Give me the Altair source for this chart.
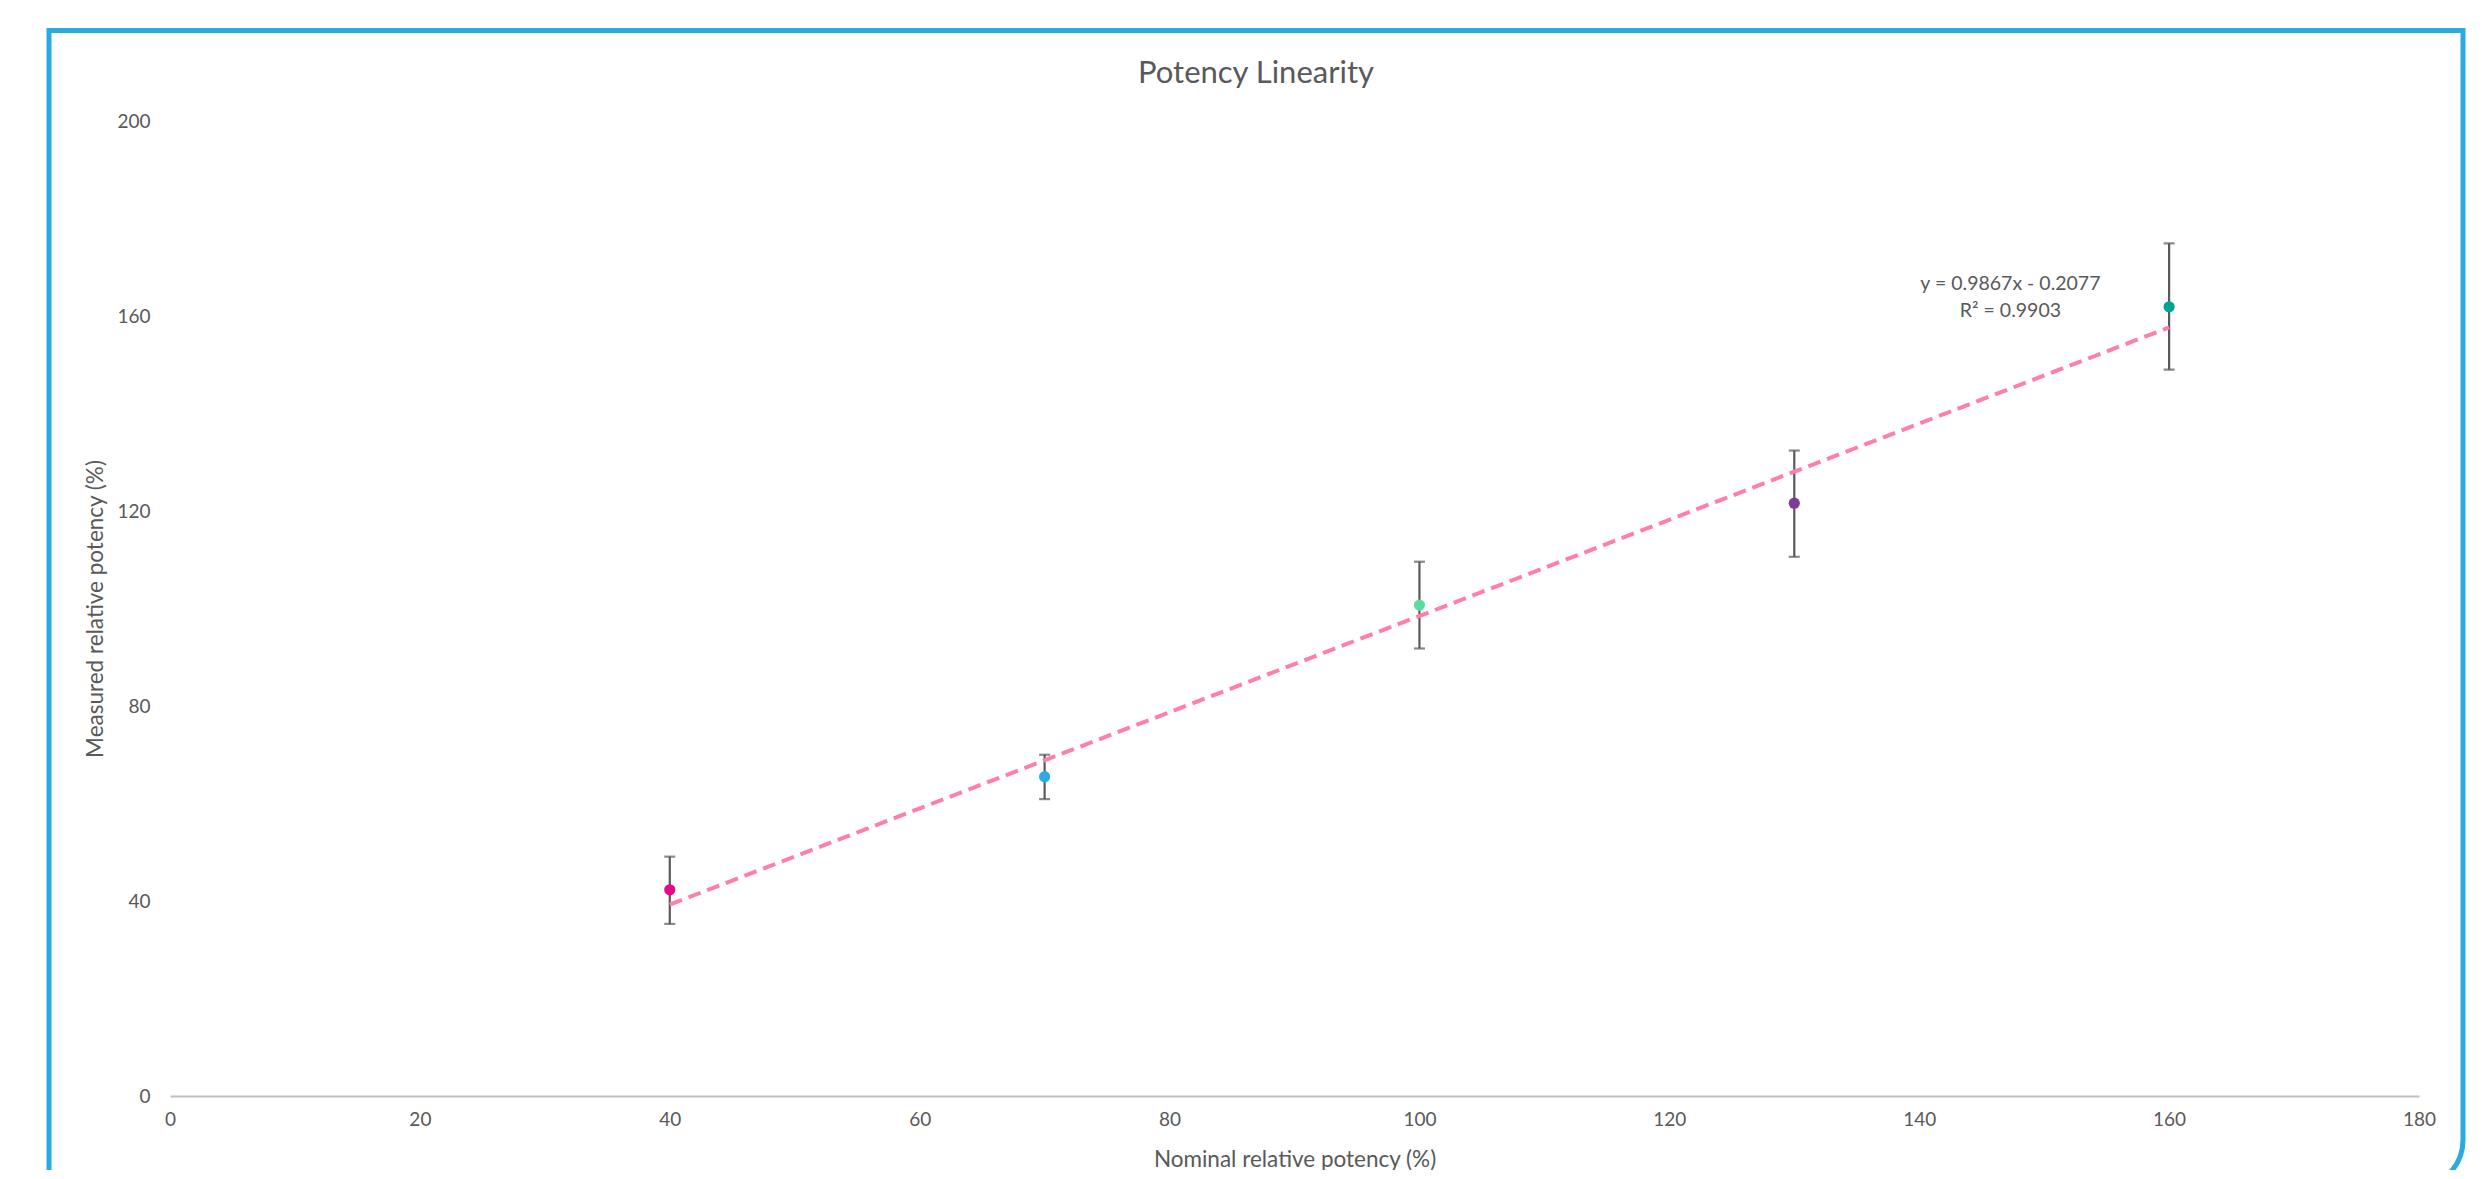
import altair as alt
import pandas as pd

# ---- data ----
nominal = [40, 70, 100, 130, 160]
measured = [42.3, 65.5, 100.7, 121.6, 161.9]
err_low = [35.3, 60.9, 91.8, 110.6, 149.0]
err_high = [49.1, 70.0, 109.6, 132.4, 174.9]
point_colors = ["#E6078C", "#2AABE2", "#5CDDA0", "#7D3C98", "#00A494"]

slope = 0.9867
intercept = -0.2077
r_squared = 0.9903
trend_x = [40, 160]
label_pos = [147.3, 165.3]

x_ticks = [0, 20, 40, 60, 80, 100, 120, 140, 160, 180]
y_ticks = [0, 40, 80, 120, 160, 200]

chart_title = "Potency Linearity"
x_title = "Nominal relative potency (%)"
y_title = "Measured relative potency (%)"

FONT = "Lato"
TXT = "#595959"

pts = pd.DataFrame({
    "x": nominal, "y": measured, "lo": err_low, "hi": err_high,
    "k": [str(v) for v in nominal],
})
trend = pd.DataFrame({"x": trend_x})
lab = pd.DataFrame({
    "x": [label_pos[0]], "y": [label_pos[1]],
    "t": [f"y = {slope}x - {abs(intercept)}\nR² = {r_squared}"],
})

xs = alt.Scale(domain=[0, 180], nice=False, zero=True)
ys = alt.Scale(domain=[0, 200], nice=False, zero=True)

x_axis = alt.Axis(
    values=x_ticks, grid=False, ticks=False, tickSize=0, labelFlush=False,
    domainColor="#BFBFBF", domainWidth=2,
    labelFont=FONT, labelFontSize=19, labelColor=TXT, labelPadding=14,
    title=x_title, titleFont=FONT, titleFontSize=22.5,
    titleFontWeight="normal", titleColor=TXT, titleY=63, titleBaseline="middle",
)
y_axis = alt.Axis(
    values=y_ticks, grid=False, ticks=False, tickSize=0, domain=False, labelFlush=False,
    labelFont=FONT, labelFontSize=19, labelColor=TXT, labelPadding=20,
    title=y_title, titleFont=FONT, titleFontSize=22.5,
    titleFontWeight="normal", titleColor=TXT, titleX=-75, titleY=487.5,
    titleAngle=270, titleBaseline="middle", titleAlign="center",
)


def X(f):
    return alt.X(f, scale=xs, axis=x_axis)


def Y(f):
    return alt.Y(f, scale=ys, axis=y_axis)


bars = alt.Chart(pts).mark_rule(color=TXT, strokeWidth=2.2).encode(
    x=X("x:Q"), y=Y("lo:Q"), y2="hi:Q",
)
cap_lo = alt.Chart(pts).mark_tick(
    orient="horizontal", color=TXT, size=11, thickness=2.2
).encode(x=X("x:Q"), y=Y("lo:Q"))
cap_hi = alt.Chart(pts).mark_tick(
    orient="horizontal", color=TXT, size=11, thickness=2.2
).encode(x=X("x:Q"), y=Y("hi:Q"))

dots = alt.Chart(pts).mark_circle(size=125, opacity=1).encode(
    x=X("x:Q"), y=Y("y:Q"),
    color=alt.Color("k:N", scale=alt.Scale(domain=pts["k"].tolist(), range=point_colors), legend=None),
)

line = alt.Chart(trend).transform_calculate(
    ty=f"{slope} * datum.x + ({intercept})"
).mark_line(color="#FF7FAA", strokeWidth=4, strokeDash=[13, 7]).encode(
    x=X("x:Q"), y=Y("ty:Q"),
)

text = alt.Chart(lab).mark_text(
    font=FONT, fontSize=19.5, color=TXT, align="center", baseline="alphabetic",
    lineBreak="\n", lineHeight=27,
).encode(x=X("x:Q"), y=Y("y:Q"), text="t:N")

frame = pd.DataFrame({"t": [chart_title]})
border = alt.Chart(frame).mark_rect(
    filled=False, stroke="#29ABE2", strokeWidth=5, cornerRadiusBottomRight=48,
).encode(
    x=alt.value(-121), x2=alt.value(2293), y=alt.value(-90.5), y2=alt.value(1067),
)
title = alt.Chart(frame).mark_text(
    font=FONT, fontSize=31, color=TXT, align="center", baseline="alphabetic",
).encode(x=alt.value(1086), y=alt.value(-38), text="t:N")

chart = alt.layer(bars, cap_lo, cap_hi, dots, line, text, border, title).properties(
    width=2249, height=975,
    autosize=alt.AutoSizeParams(type="none"),
    padding={"left": 162, "top": 113, "right": 55, "bottom": 74},
    background="white",
).configure_view(stroke=None)

chart.save("out.html", embed_options={"renderer": "svg", "actions": False})
